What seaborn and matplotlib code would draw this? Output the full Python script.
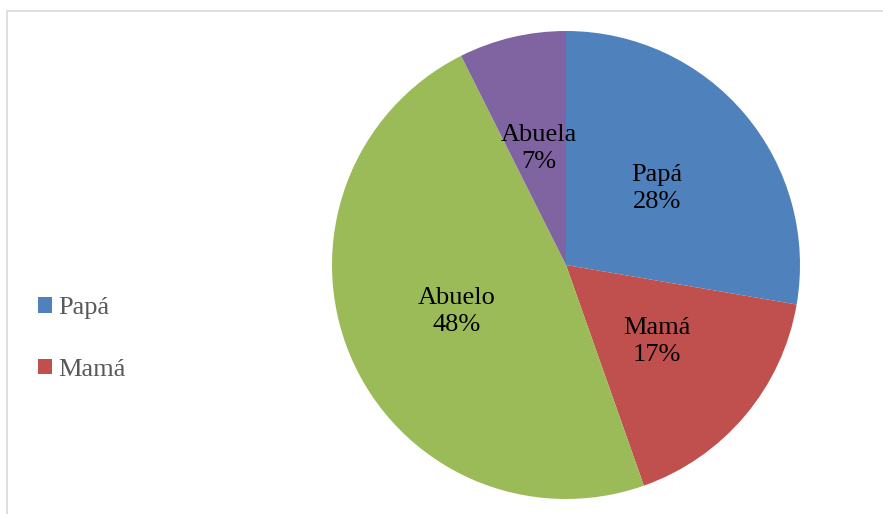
import seaborn as sns
import matplotlib.pyplot as plt
import matplotlib.patches as mpatches

# data (slice shares, labels rounded)
categories = ["Papá", "Mamá", "Abuelo", "Abuela"]
percentages = [27.7, 16.9, 48.0, 7.4]
colors = ["#4F81BD", "#C0504D", "#9BBB59", "#8064A2"]
legend_items = 2  # the legend in the original only shows the first two entries

sns.set_style("white")
plt.rcParams["font.family"] = ["Liberation Serif", "DejaVu Serif"]

W, H = 883, 514
fig = plt.figure(figsize=(W / 100, H / 100), dpi=100)

# pie axes: centre at (566, 265) px, radius 234 px
cx, cy, r = 566, 265, 234
ax = fig.add_axes([(cx - r) / W, (H - cy - r) / H, 2 * r / W, 2 * r / H])

label_iter = iter(categories)


def make_label(pct):
    return f"{next(label_iter)}\n{pct:.0f}%"


wedges, _, autotexts = ax.pie(
    percentages,
    colors=colors,
    startangle=90,
    counterclock=False,
    autopct=make_label,
    pctdistance=0.51,
    wedgeprops=dict(edgecolor="none"),
    textprops=dict(fontsize=19, color="black", linespacing=1.3),
)
ax.set_xlim(-1, 1)
ax.set_ylim(-1, 1)
ax.set_aspect("equal")
for w in wedges:
    w.set_clip_on(False)

# legend (only Papá and Mamá visible in the original)
fig.legend(
    wedges[:legend_items],
    categories[:legend_items],
    loc="center left",
    bbox_to_anchor=(38 / W, (H - 339) / H),
    frameon=False,
    fontsize=19,
    labelcolor="#595959",
    handlelength=0.53,
    handleheight=0.53,
    handletextpad=0.25,
    labelspacing=1.5,
    borderpad=0,
    borderaxespad=0,
)

# light grey chart border (top and left edges visible)
fig.add_artist(mpatches.Rectangle(
    (6.5 / W, -0.1), 1.2, (H - 11) / H + 0.1,
    transform=fig.transFigure, fill=False, edgecolor="#d9d9d9", linewidth=1.2,
))

fig.savefig("out.png", dpi=100)
